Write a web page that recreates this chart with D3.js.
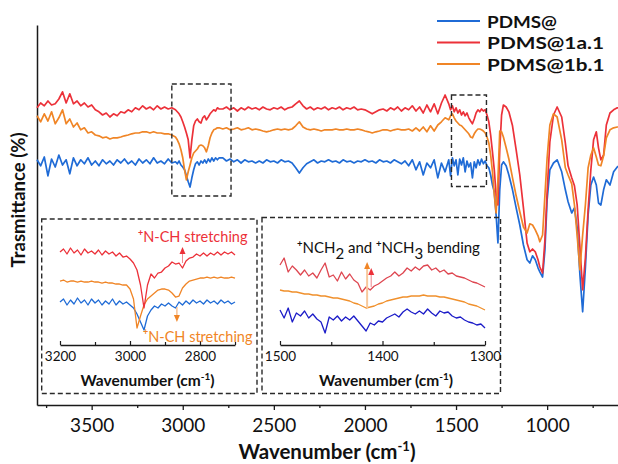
<!DOCTYPE html>
<html><head><meta charset="utf-8">
<script src="https://cdn.jsdelivr.net/npm/d3@7"></script>
<style>
body{margin:0;background:#fff}
svg{display:block}
text{font-family:Lato,"Open Sans",sans-serif}
</style>
</head><body>
<svg id="c" width="618" height="464"></svg>
<script>
// ---------------- DATA ----------------
const seriesNames = ["PDMS@", "PDMS@1a.1", "PDMS@1b.1"];
const xTickValues = [3500, 3000, 2500, 2000, 1500, 1000];
const xMinorTicks = [3750, 3250, 2750, 2250, 1750, 1250, 750];

const wavenumbers = [
  3800,3780,3760,3740,3720,3700,3680,3660,3640,3620,3600,3580,3560,3540,3520,3500,3480,3460,3440,3420,
  3400,3380,3360,3340,3320,3300,3280,3260,3240,3220,3200,3180,3160,3140,3120,3100,3080,3060,
  3040,3030,3020,3010,3000,2990,2980,2970,2960,2950,2940,2930,2920,2910,2900,2890,2880,2870,2860,2850,
  2840,2830,2820,2810,2800,
  2780,2760,2740,2720,2700,2680,2660,2640,2620,2600,
  2580,2560,2540,2520,2500,2480,2460,2440,2420,2400,
  2380,2360,2340,2320,2300,2280,2260,2240,2220,2200,
  2180,2160,2140,2120,2100,2080,2060,2040,2020,2000,
  1980,1960,1940,1920,1900,1880,1860,1840,1820,1800,
  1780,1760,1740,1720,1700,1680,1660,1640,1620,1600,
  1580,1560,
  1540,1530,1520,1510,1500,1490,1480,1470,1460,1450,1440,1430,1420,1410,1400,1390,1380,1370,1360,1350,
  1340,1330,1320,1310,
  1300,1290,1280,1270,1260,1250,1240,1225,1210,1190,1170,1150,1130,1110,1095,1080,1065,1050,1040,1025,
  1012,1000,985,965,945,920,900,885,865,850,835,820,805,790,775,760,745,730,718,705,690,675,655,635,615,600
];

const pdms = [
  61.3,59.8,62.0,57.3,61.5,59.5,62.5,60.0,61.3,57.8,61.8,59.8,61.3,60.3,61.8,60.0,61.0,59.8,61.3,60.3,
  61.0,60.0,61.3,60.5,61.5,60.3,61.0,60.0,61.5,60.5,61.3,60.3,61.8,60.5,61.0,60.3,61.5,60.5,
  60.8,60.3,61.0,60.0,59.5,58.8,57.3,55.8,54.5,56.8,58.8,60.3,60.8,60.0,61.0,60.5,61.3,60.5,61.5,60.8,
  61.8,61.0,61.8,61.3,61.8,
  61.8,61.0,61.5,60.8,61.3,60.5,61.3,60.8,61.0,60.5,
  61.0,60.5,61.3,60.8,61.0,60.5,61.3,60.8,61.0,60.5,
  59.3,58.0,59.3,60.3,60.8,61.3,60.5,61.0,60.8,61.3,
  60.8,61.0,60.5,61.3,60.8,61.0,60.5,61.0,60.8,61.3,
  60.8,61.0,60.5,61.3,60.8,61.0,60.5,61.3,60.8,60.3,
  61.0,59.8,61.3,58.8,60.8,57.5,60.5,59.3,61.3,56.8,
  60.5,58.3,
  61.3,57.3,61.8,59.8,61.3,57.5,61.5,60.0,61.8,58.3,61.0,59.5,60.5,56.8,60.8,59.3,61.3,60.0,61.5,60.3,
  61.0,59.8,59.3,57.5,
  55.0,53.3,47.5,40.5,53.8,60.0,60.8,59.8,57.5,53.8,49.3,45.0,40.0,36.3,35.5,37.3,36.3,34.3,33.3,32.0,
  38.8,51.3,58.8,60.5,61.3,58.3,53.8,50.8,48.0,49.3,44.3,32.5,23.3,34.3,47.5,55.0,57.0,55.0,50.5,50.0,
  53.8,56.3,55.0,58.3,59.5,60.0
];

const pdms1a = [
  74.3,75.5,74.8,76.0,75.0,75.3,76.5,78.3,75.5,77.8,75.3,76.0,74.8,75.5,74.5,75.0,73.8,73.3,72.5,73.0,
  72.0,72.8,72.3,73.3,73.0,73.8,73.3,74.3,73.8,74.8,74.0,74.5,73.8,74.8,74.0,74.5,74.0,74.3,
  73.8,73.3,72.8,72.0,70.8,69.5,68.0,66.3,61.8,66.3,69.8,71.0,71.5,70.8,70.5,71.8,72.3,71.3,72.0,72.8,
  73.3,73.8,73.5,74.3,74.0,
  74.0,74.5,73.8,74.3,73.5,74.3,73.8,74.5,74.0,74.3,
  73.8,74.5,74.0,73.8,74.3,74.0,74.5,73.8,74.3,74.5,
  75.3,76.0,74.8,74.0,74.5,73.8,74.3,74.0,74.5,73.8,
  74.3,74.0,74.5,73.8,74.3,74.0,74.5,73.8,74.0,73.8,
  73.3,72.8,73.3,73.8,74.0,73.5,74.3,73.8,74.5,73.5,
  74.3,73.8,74.8,73.5,74.5,73.0,75.0,73.3,75.3,72.8,
  75.5,77.5,
  75.3,73.8,74.8,73.3,74.3,73.0,73.8,72.5,73.3,72.3,73.0,71.8,71.0,70.3,71.5,73.0,73.8,73.3,74.0,73.5,
  73.8,72.5,70.8,67.5,
  63.3,58.8,52.5,50.0,63.8,72.5,75.0,74.5,73.3,69.8,63.8,57.5,49.3,40.5,38.3,39.0,38.3,36.3,34.5,33.0,
  41.3,53.3,65.8,72.5,74.5,72.0,65.5,59.8,56.8,54.8,50.0,39.5,28.8,36.8,48.8,58.8,66.3,68.3,64.3,61.3,
  62.5,70.0,73.0,73.8,74.3,74.3
];

const pdms1b = [
  72.3,70.8,72.8,71.0,73.3,70.3,71.8,73.8,70.3,71.5,69.5,70.5,68.8,69.3,68.0,68.3,67.5,67.3,66.8,67.0,
  66.5,66.8,66.8,67.0,67.3,67.5,67.8,68.0,68.0,68.3,68.3,68.0,68.3,68.0,68.0,67.8,67.8,67.5,
  67.0,66.3,65.3,63.8,61.8,58.8,56.3,58.3,60.0,61.8,63.0,63.5,64.0,64.8,65.0,64.8,64.3,63.3,64.8,66.8,
  68.0,68.8,69.0,69.3,69.3,
  69.0,69.3,68.8,69.0,69.3,68.8,69.0,69.3,68.8,69.0,
  68.8,68.5,68.3,68.5,68.8,69.0,68.8,69.0,68.8,69.0,
  69.8,70.8,69.5,69.0,68.8,69.0,68.8,68.5,68.8,68.8,
  68.8,69.0,68.8,68.8,69.0,68.8,68.8,69.0,68.8,68.5,
  68.3,68.0,68.3,68.5,68.8,68.8,68.5,68.8,69.0,68.8,
  68.8,69.0,68.5,69.3,68.5,69.5,68.3,69.8,68.5,70.0,
  70.8,71.8,
  71.3,72.3,72.8,71.8,71.0,70.5,70.0,69.8,69.3,68.8,68.3,67.8,67.0,66.8,67.8,68.5,69.0,69.0,68.8,68.5,
  68.0,67.0,65.5,62.5,
  58.3,52.5,48.0,56.3,68.5,68.3,67.0,64.3,61.5,56.8,52.3,48.3,44.5,43.0,45.3,45.0,43.8,42.3,40.8,42.5,
  52.5,61.8,70.0,72.8,72.0,66.3,59.3,57.5,55.3,50.0,42.3,33.8,42.5,50.0,59.3,62.5,64.3,62.0,60.0,59.8,
  62.3,66.8,68.8,69.3,69.5,69.5
];

// Inset 1 (C-H stretching region)
const inset1Wavenumbers = [
  3200,3190,3180,3170,3160,3150,3140,3130,3120,3110,3100,3090,3080,3070,3060,3050,3040,3030,3020,3010,
  3000,2990,2980,2970,2960,2950,2940,2930,2920,2910,2900,2890,2880,2870,2860,2850,2840,2830,2820,2810,
  2800,2790,2780,2770,2760,2750,2740,2730,2720,2710,2700
];
const inset1Pdms = [
  43,46,40,45,41,47,42,45,40,46,42,45,40,44,41,46,40,44,41,43,
  40,37,31,23,15,29,35,39,37,41,39,42,39,37,43,40,44,41,45,42,
  44,41,45,42,44,41,45,42,44,41,43
];
const inset1Pdms1a = [
  93,96,91,97,92,95,90,96,92,94,91,95,90,94,91,93,89,92,88,89,
  86,82,75,60,37,60,71,67,72,73,77,79,83,81,82,77,84,87,88,91,
  89,92,89,92,90,93,90,93,91,93,90
];
const inset1Pdms1b = [
  64,65,63,64,64,63,64,63,63,64,63,63,62,63,62,62,61,61,60,60,
  56,46,17,29,40,46,49,52,55,56,56,55,52,48,49,57,61,64,65,66,
  67,67,68,67,68,67,68,67,67,68,67
];
const inset1Ticks = [3200, 3000, 2800];
const inset1Minor = [3100, 2900, 2700];

// Inset 2 (N-CH bending region)
const inset2Wavenumbers = [
  1500,1496,1492,1488,1484,1480,1476,1472,1468,1464,1460,1456,1452,1448,1444,1440,1436,1432,1428,1424,
  1420,1416,1412,1408,1404,1400,1396,1392,1388,1384,1380,1376,1372,1368,1364,1360,1356,1352,1348,1344,
  1340,1336,1332,1328,1324,1320,1316,1312,1308,1304,1300
];
const inset2Pdms = [
  35,27,37,23,32,29,34,27,31,26,23,12,28,25,29,24,28,25,29,24,
  19,14,22,20,24,23,27,29,31,28,33,36,33,31,34,31,36,32,29,34,
  32,33,29,27,28,25,23,22,20,21,17
];
const inset2Pdms1a = [
  80,87,73,79,75,70,75,69,72,67,75,82,68,70,64,73,66,71,65,62,
  53,58,55,59,61,64,67,69,73,69,72,77,74,78,75,79,80,75,77,73,
  75,71,72,69,68,67,65,63,62,60,58
];
const inset2Pdms1b = [
  55,54,54,53,53,52,51,51,50,50,49,49,48,47,47,46,45,44,42,41,
  39,37,38,39,41,42,44,45,46,47,48,48,49,49,49,50,49,49,49,48,
  48,47,46,45,44,43,41,40,39,37,35
];
const inset2Ticks = [1500, 1400, 1300];
const inset2Minor = [1450, 1350];

// ---------------- DRAW ----------------
const svg = d3.select("#c");
const col = {blue:"#1f6bd6", red:"#ec3139", orange:"#f08526"};
const col2 = {blue:"#1c1cc8", red:"#de4650", orange:"#f0902c"};

const x = d3.scaleLinear().domain([3800, 600]).range([37, 620]);
const y = d3.scaleLinear().domain([0, 95]).range([405, 25]);

const line = (xs, ys) => d3.line().x(d => xs(d[0])).y(d => ys(d[1]));

function drawSeries(g, xs, ys, wn, vals, color, w) {
  g.append("path").datum(d3.zip(wn, vals))
    .attr("d", line(xs, ys)).attr("fill", "none")
    .attr("stroke", color).attr("stroke-width", w).attr("stroke-linejoin", "round");
}

// Axes (main)
const gx = svg.append("g").attr("transform", "translate(0,405)")
  .call(d3.axisBottom(x).tickValues(xTickValues).tickSize(5).tickSizeOuter(0).tickPadding(9).tickFormat(d3.format("d")));
svg.append("g").attr("transform", "translate(0,405)")
  .call(d3.axisBottom(x).tickValues(xMinorTicks).tickSize(3).tickSizeOuter(0).tickFormat(""))
  .select(".domain").remove();
svg.append("g").attr("transform", "translate(37,0)")
  .call(d3.axisLeft(y).tickValues([]).tickSizeOuter(0));
svg.selectAll(".domain").attr("stroke", "#1a1a1a").attr("stroke-width", 1.5);
svg.selectAll(".tick line").attr("stroke", "#1a1a1a").attr("stroke-width", 1.3);
gx.selectAll(".tick text").attr("font-size", 19).attr("fill", "#111")
  .style("font-family", "Lato");

// axis titles
const xt = svg.append("text").attr("x", 327).attr("y", 459).attr("text-anchor", "middle")
  .attr("font-size", 20.5).attr("font-weight", "bold").attr("fill", "#111");
xt.append("tspan").text("Wavenumber (cm");
xt.append("tspan").attr("font-size", 13).attr("dy", -8).text("-1");
xt.append("tspan").attr("dy", 8).text(")");

svg.append("text").attr("transform", "translate(25,200) rotate(-90)")
  .attr("text-anchor", "middle").attr("font-size", 18.5).attr("font-weight", "bold")
  .attr("fill", "#111").text("Trasmittance (%)");

// main spectra
const gm = svg.append("g");
drawSeries(gm, x, y, wavenumbers, pdms, col.blue, 1.7);
drawSeries(gm, x, y, wavenumbers, pdms1a, col.red, 1.7);
drawSeries(gm, x, y, wavenumbers, pdms1b, col.orange, 1.7);

// dashed highlight boxes in main plot
const dash = (x0, y0, x1, y1) => svg.append("rect")
  .attr("x", x0).attr("y", y0).attr("width", x1 - x0).attr("height", y1 - y0)
  .attr("fill", "none").attr("stroke", "#2a2a2a").attr("stroke-width", 1.4)
  .attr("stroke-dasharray", "5,3");
dash(x(3060), 84, x(2735), 196);
dash(x(1525), 95, x(1333), 186.5);

// legend
const legColors = [col.blue, col.red, col.orange];
const legY = [21, 42.5, 64];
const legWidths = [70, 117, 117.5];
seriesNames.forEach((n, i) => {
  svg.append("line").attr("x1", 437).attr("x2", 480).attr("y1", legY[i]).attr("y2", legY[i])
    .attr("stroke", legColors[i]).attr("stroke-width", 2);
  svg.append("text").attr("x", 487).attr("y", legY[i] + 6.5).attr("font-size", 17.6)
    .attr("font-weight", "bold").attr("fill", "#111")
    .attr("textLength", legWidths[i]).attr("lengthAdjust", "spacingAndGlyphs").text(n);
});

// ---------------- INSET 1 ----------------
dash(41.7, 219, 257, 393.5);
const x1 = d3.scaleLinear().domain([3200, 2700]).range([60, 235]);
const yI = d3.scaleLinear().domain([0, 130]).range([345, 215]);
const g1 = svg.append("g");
drawSeries(g1, x1, yI, inset1Wavenumbers, inset1Pdms, col.blue, 1.3);
drawSeries(g1, x1, yI, inset1Wavenumbers, inset1Pdms1b, col.orange, 1.3);
drawSeries(g1, x1, yI, inset1Wavenumbers, inset1Pdms1a, col.red, 1.3);

function insetAxis(xs, major, minor) {
  const ga = svg.append("g").attr("transform", "translate(0,345)")
    .call(d3.axisBottom(xs).tickValues(major).tickSize(-4).tickSizeOuter(0).tickPadding(6).tickFormat(d3.format("d")));
  ga.select(".domain").attr("stroke", "#1a1a1a").attr("stroke-width", 1.4);
  ga.selectAll(".tick line").attr("stroke", "#1a1a1a").attr("stroke-width", 1.2);
  ga.selectAll(".tick text").attr("font-size", 13.5).attr("fill", "#111").style("font-family", "Lato");
  const gm2 = svg.append("g").attr("transform", "translate(0,345)")
    .call(d3.axisBottom(xs).tickValues(minor).tickSize(-3).tickFormat(""));
  gm2.select(".domain").remove();
  gm2.selectAll(".tick line").attr("stroke", "#1a1a1a").attr("stroke-width", 1.2);
}
insetAxis(x1, inset1Ticks, inset1Minor);

function insetTitle(cx) {
  const t = svg.append("text").attr("x", cx).attr("y", 386).attr("text-anchor", "middle")
    .attr("font-size", 15.5).attr("font-weight", "bold").attr("fill", "#111");
  t.append("tspan").text("Wavenumber (cm");
  t.append("tspan").attr("font-size", 10).attr("dy", -6).text("-1");
  t.append("tspan").attr("dy", 6).text(")");
}
insetTitle(147.5);
insetTitle(386);

function arrow(xp, yTail, yHead, lineColor, headColor, lw) {
  const dir = yHead < yTail ? 1 : -1; // 1 = pointing up
  svg.append("line").attr("x1", xp).attr("x2", xp).attr("y1", yTail).attr("y2", yHead + dir * 5)
    .attr("stroke", lineColor).attr("stroke-width", lw);
  svg.append("path")
    .attr("d", `M${xp},${yHead} L${xp - 3},${yHead + dir * 7} L${xp + 3},${yHead + dir * 7} Z`)
    .attr("fill", headColor);
}

function labelPlus(xp, yp, color, size, body) {
  const t = svg.append("text").attr("x", xp).attr("y", yp).attr("fill", color).attr("font-size", size);
  t.append("tspan").attr("font-size", size * 0.62).attr("font-weight", "bold").attr("dy", -size * 0.42).text("+");
  t.append("tspan").attr("dy", size * 0.42).text(body);
}
labelPlus(138, 242, col.red, 14.5, "N-CH stretching");
arrow(x1(2850), yI(82), yI(98), "#f28a90", col.red, 1);
labelPlus(143, 341.5, col.orange, 14.5, "N-CH stretching");
arrow(x1(2866), yI(38), yI(23), "#f6b27a", col.orange, 1.2);

// ---------------- INSET 2 ----------------
dash(262, 217.5, 500.5, 393.5);
const x2 = d3.scaleLinear().domain([1500, 1300]).range([280, 485]);
const g2 = svg.append("g");
drawSeries(g2, x2, yI, inset2Wavenumbers, inset2Pdms, col2.blue, 1.3);
drawSeries(g2, x2, yI, inset2Wavenumbers, inset2Pdms1b, col2.orange, 1.3);
drawSeries(g2, x2, yI, inset2Wavenumbers, inset2Pdms1a, col2.red, 1.3);
insetAxis(x2, inset2Ticks, inset2Minor);

const bt = svg.append("text").attr("x", 297).attr("y", 253).attr("fill", "#111").attr("font-size", 15);
bt.append("tspan").attr("font-size", 9.5).attr("font-weight", "bold").attr("dy", -6).text("+");
bt.append("tspan").attr("dy", 6).text("NCH");
bt.append("tspan").attr("dy", 6).text("2");
bt.append("tspan").attr("dy", -6).text(" and ");
bt.append("tspan").attr("font-size", 9.5).attr("font-weight", "bold").attr("dy", -6).text("+");
bt.append("tspan").attr("dy", 6).text("NCH");
bt.append("tspan").attr("dy", 6).text("3");
bt.append("tspan").attr("dy", -6).text(" bending");

arrow(x2(1415), yI(37), yI(83), "#f8c89c", col.orange, 2);
arrow(x2(1411), yI(58), yI(77), "#f29aa0", col.red, 1.2);
</script>
</body></html>
